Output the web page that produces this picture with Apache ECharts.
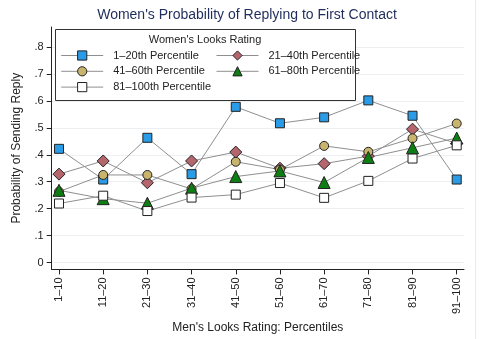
<!DOCTYPE html>
<html>
<head>
<meta charset="utf-8">
<script src="https://cdn.jsdelivr.net/npm/echarts@6/dist/echarts.min.js"></script>
<style>
  html, body { margin: 0; padding: 0; background: #fff; }
  #chart { width: 494px; height: 339px; }
</style>
</head>
<body>
<div id="chart"></div>
<script>
// Men's looks rating buckets (x categories)
const categories = ['1–10', '11–20', '21–30', '31–40', '41–50', '51–60', '61–70', '71–80', '81–90', '91–100'];

// Women's looks rating groups (series names)
const seriesNames = ['1–20th Percentile', '21–40th Percentile', '41–60th Percentile', '61–80th Percentile', '81–100th Percentile'];

// Probability of sending a reply, per women's group
const pct1to20   = [0.422, 0.308, 0.463, 0.328, 0.578, 0.517, 0.539, 0.602, 0.545, 0.308];
const pct21to40  = [0.328, 0.377, 0.296, 0.377, 0.410, 0.350, 0.367, 0.395, 0.495, 0.442];
const pct41to60  = [0.263, 0.325, 0.325, 0.273, 0.374, 0.345, 0.433, 0.411, 0.461, 0.516];
const pct61to80  = [0.268, 0.237, 0.220, 0.276, 0.319, 0.340, 0.297, 0.390, 0.426, 0.462];
const pct81to100 = [0.219, 0.248, 0.191, 0.241, 0.252, 0.295, 0.240, 0.303, 0.386, 0.435];

// Y axis ticks and their labels
const yTickValues = [0, 0.1, 0.2, 0.3, 0.4, 0.5, 0.6, 0.7, 0.8];
const yTickLabels = ['0', '.1', '.2', '.3', '.4', '.5', '.6', '.7', '.8'];

const FONT = "'Liberation Sans', Arial, Helvetica, sans-serif";
const INK = '#222';
const LINE_GRAY = '#8f8f8f';

const markerStyles = [
  { symbol: 'rect',     size: 9,  fill: '#2a9be6' },
  { symbol: 'diamond',  size: 12, fill: '#b5666d' },
  { symbol: 'circle',   size: 9,  fill: '#c9b46e' },
  { symbol: 'triangle', size: 12, fill: '#0d7f12' },
  { symbol: 'rect',     size: 9,  fill: '#ffffff' }
];
const seriesValues = [pct1to20, pct21to40, pct41to60, pct61to80, pct81to100];

const series = seriesNames.map((name, i) => ({
  name: name,
  type: 'line',
  data: seriesValues[i].map((v, j) => [j, v]),
  symbol: markerStyles[i].symbol,
  symbolSize: markerStyles[i].size,
  showAllSymbol: true,
  lineStyle: { color: LINE_GRAY, width: 1 },
  itemStyle: { color: markerStyles[i].fill, borderColor: INK, borderWidth: 1 },
  emphasis: { disabled: true },
  animation: false
}));

const legendCommon = {
  orient: 'vertical',
  itemWidth: 42,
  itemHeight: 11.5,
  itemGap: 4.8,
  selectedMode: false,
  padding: 0,
  z: 6,
  lineStyle: { width: 1, color: LINE_GRAY },
  itemStyle: { borderWidth: 1, borderColor: INK },
  textStyle: { fontFamily: FONT, fontSize: 11, color: INK, padding: [0, 0, 0, 5] }
};

const option = {
  backgroundColor: '#fff',
  animation: false,
  title: {
    text: "Women's Probability of Replying to First Contact",
    left: 'center',
    top: 8,
    padding: 0,
    textStyle: { fontFamily: FONT, fontSize: 14, fontWeight: 'normal', color: '#1f2d5c' }
  },
  grid: { left: 51.7, right: 30, top: 27, bottom: 66.7, containLabel: false },
  xAxis: {
    type: 'value',
    min: -0.165,
    max: 9.165,
    name: "Men's Looks Rating: Percentiles",
    nameLocation: 'middle',
    nameGap: 43,
    nameTextStyle: { fontFamily: FONT, fontSize: 12, color: INK },
    axisLine: { show: true, onZero: false, lineStyle: { color: INK, width: 1 } },
    axisTick: { show: true, length: 5, lineStyle: { color: INK }, customValues: categories.map((c, i) => i) },
    axisLabel: {
      customValues: categories.map((c, i) => i),
      rotate: 90,
      margin: 8,
      fontFamily: FONT, fontSize: 11, color: INK,
      formatter: v => categories[Math.round(v)]
    },
    splitLine: { show: false }
  },
  yAxis: {
    type: 'value',
    min: -0.0257,
    max: 0.8745,
    name: 'Probability of Sending Reply',
    nameLocation: 'middle',
    nameGap: 29,
    nameTextStyle: { fontFamily: FONT, fontSize: 12, color: INK },
    axisLine: { show: true, onZero: false, lineStyle: { color: INK, width: 1 } },
    axisTick: { show: true, length: 5, lineStyle: { color: INK }, customValues: yTickValues },
    axisLabel: {
      customValues: yTickValues,
      margin: 8,
      fontFamily: FONT, fontSize: 11, color: INK,
      formatter: v => {
        const k = yTickValues.findIndex(t => Math.abs(t - v) < 1e-6);
        return k >= 0 ? yTickLabels[k] : '';
      }
    },
    splitLine: { show: true, lineStyle: { color: '#edf0f3', width: 1 } }
  },
  legend: [
    Object.assign({}, legendCommon, { data: [seriesNames[0], seriesNames[2], seriesNames[4]], left: 60.7, top: 50 }),
    Object.assign({}, legendCommon, { data: [seriesNames[1], seriesNames[3]], left: 216, top: 50 })
  ],
  graphic: [
    { type: 'line', z: 0, silent: true, shape: { x1: 475.5, y1: 0, x2: 475.5, y2: 339 }, style: { stroke: '#e9ebee', lineWidth: 1 } },
    { type: 'rect', z: 5, silent: true, shape: { x: 55.5, y: 29.5, width: 300, height: 71 }, style: { fill: '#fff', stroke: '#333', lineWidth: 1 } },
    { type: 'text', z: 6, silent: true, x: 205, y: 40, style: { text: "Women's Looks Rating", fontFamily: FONT, fontSize: 11, fill: INK, align: 'center', verticalAlign: 'middle' } }
  ],
  series: series
};

const chart = echarts.init(document.getElementById('chart'), null, { renderer: 'canvas' });
chart.setOption(option);
</script>
</body>
</html>
